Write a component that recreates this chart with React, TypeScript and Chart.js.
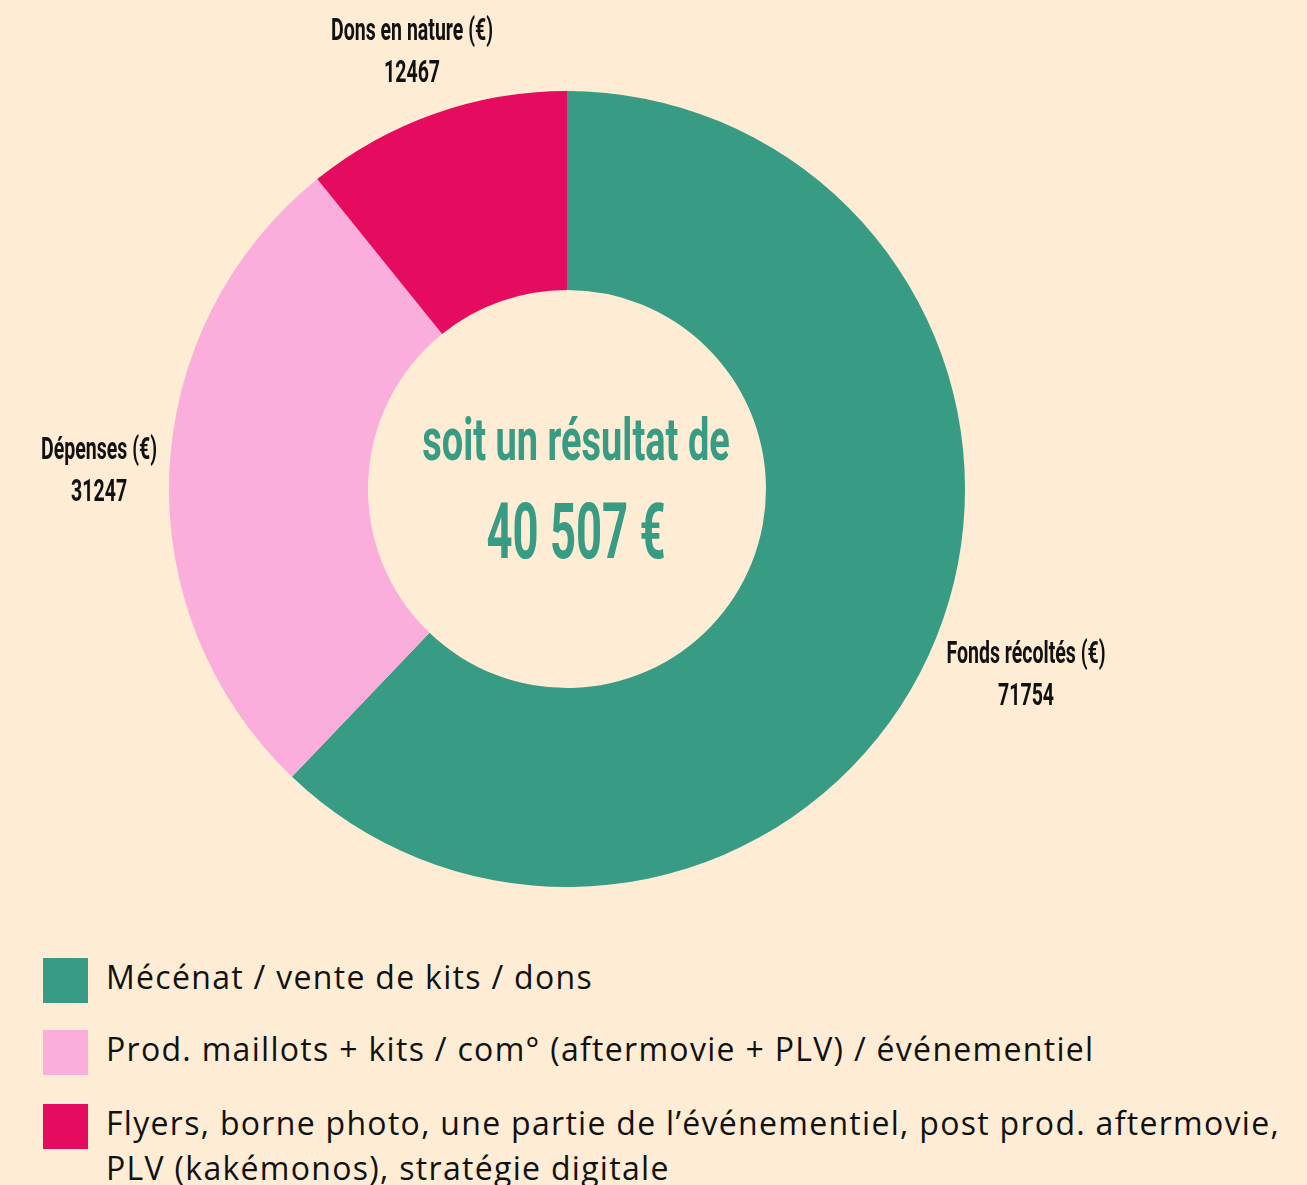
import React, { useEffect, useRef } from "react";
import { Chart, registerables } from "chart.js";

Chart.register(...registerables);

const sliceLabels = ["Fonds récoltés (€)", "Dépenses (€)", "Dons en nature (€)"];
const sliceValues = [71754, 31247, 12467];
const sliceColors = ["#389B83", "#FBAEDB", "#E50B5E"];
const legendLabels = [
  "Mécénat / vente de kits / dons",
  "Prod. maillots + kits / com° (aftermovie + PLV) / événementiel",
  "Flyers, borne photo, une partie de l’événementiel, post prod. aftermovie,\nPLV (kakémonos), stratégie digitale",
];
const centerLines = ["soit un résultat de", "40 507 €"];

const BG = "#FEEDD4";
const LABEL_FONT = "bold 31px Roboto";
const LABEL_SX = 0.63;

function drawScaled(ctx: CanvasRenderingContext2D, text: string, x: number, y: number, font: string, sx: number, color: string) {
  ctx.save();
  ctx.font = font;
  ctx.fillStyle = color;
  ctx.textAlign = "center";
  ctx.textBaseline = "alphabetic";
  ctx.translate(x, y);
  ctx.scale(sx, 1);
  ctx.fillText(text, 0, 0);
  ctx.restore();
}

const outsideLabels = {
  id: "outsideLabels",
  afterDatasetsDraw(chart: any) {
    const ctx: CanvasRenderingContext2D = chart.ctx;
    const meta = chart.getDatasetMeta(0);
    const data = chart.data.datasets[0].data as number[];
    meta.data.forEach((arc: any, i: number) => {
      const p = arc.getProps(["x", "y", "startAngle", "endAngle", "outerRadius"], true);
      const mid = (p.startAngle + p.endAngle) / 2;
      const dx = Math.cos(mid);
      const dy = Math.sin(mid);
      const title = chart.data.labels[i] as string;
      const val = String(data[i]);
      ctx.save();
      ctx.font = LABEL_FONT;
      const w = Math.max(ctx.measureText(title).width, ctx.measureText(val).width) * LABEL_SX;
      ctx.restore();
      const h = 63;
      const offset = 11;
      const dist = p.outerRadius + offset + Math.abs(dx) * w / 2 + Math.abs(dy) * h / 2;
      const cx = p.x + dx * dist;
      const cy = p.y + dy * dist;
      drawScaled(ctx, title, cx, cy - 10, LABEL_FONT, LABEL_SX, "#111111");
      drawScaled(ctx, val, cx, cy + 32, LABEL_FONT, LABEL_SX, "#111111");
    });
  },
};

const centerText = {
  id: "centerText",
  afterDatasetsDraw(chart: any) {
    const ctx: CanvasRenderingContext2D = chart.ctx;
    const arc = chart.getDatasetMeta(0).data[0];
    const x = arc.x + 9;
    const y = arc.y;
    drawScaled(ctx, centerLines[0], x, y - 29, "bold 60px Roboto", 0.633, sliceColors[0]);
    drawScaled(ctx, centerLines[1], x, y + 69, "bold 77px Roboto", 0.59, sliceColors[0]);
  },
};

export default function App() {
  const ref = useRef<HTMLCanvasElement | null>(null);

  useEffect(() => {
    document.body.style.margin = "0";
    document.body.style.background = BG;
    if (!ref.current) return;
    const chart = new Chart(ref.current, {
      type: "doughnut",
      data: {
        labels: sliceLabels,
        datasets: [
          {
            data: sliceValues,
            backgroundColor: sliceColors,
            borderWidth: 0,
          },
        ],
      },
      options: {
        animation: false,
        responsive: false,
        cutout: "50%",
        layout: { padding: { left: 169, right: 342, top: 91, bottom: 38 } },
        plugins: {
          legend: { display: false },
          tooltip: { enabled: false },
        },
      },
      plugins: [outsideLabels, centerText],
    });
    return () => chart.destroy();
  }, []);

  const rowTops = [958, 1030, 1104];

  return (
    <div style={{ position: "relative", width: 1307, height: 1185, background: BG, overflow: "hidden" }}>
      <canvas ref={ref} width={1307} height={925} style={{ display: "block", width: 1307, height: 925 }} />
      {legendLabels.map((lab, i) => (
        <div key={i}>
          <div
            style={{
              position: "absolute",
              left: 43,
              top: rowTops[i],
              width: 45,
              height: 45,
              background: sliceColors[i],
            }}
          />
          <div
            style={{
              position: "absolute",
              left: 106,
              top: rowTops[i] - 4,
              fontFamily: "'Open Sans', 'Noto Sans', sans-serif",
              fontSize: 32,
              fontWeight: 400,
              letterSpacing: "1.3px",
              lineHeight: "45px",
              color: "#111111",
              whiteSpace: "pre",
            }}
          >
            {lab}
          </div>
        </div>
      ))}
    </div>
  );
}
